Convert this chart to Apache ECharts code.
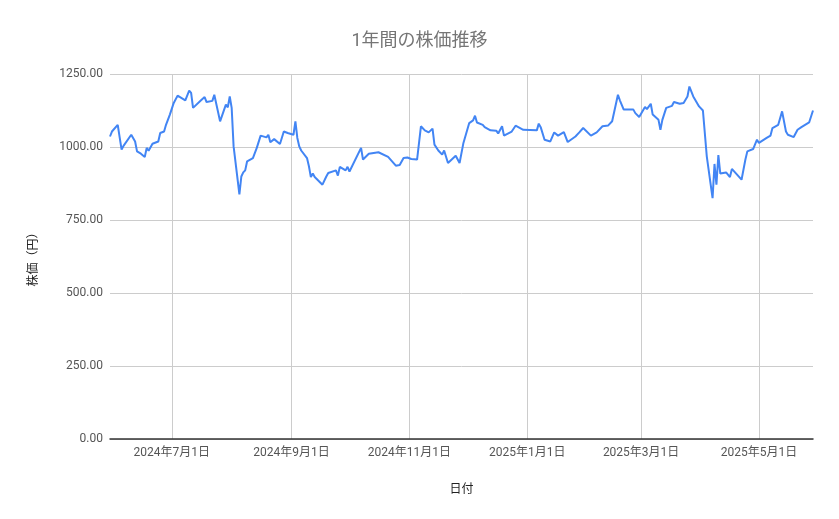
<!DOCTYPE html>
<html>
<head>
<meta charset="utf-8">
<script src="https://cdn.jsdelivr.net/npm/echarts@6/dist/echarts.min.js"></script>
<style>
html,body{margin:0;padding:0;background:#fff;}
#chart{width:839px;height:519px;}
</style>
</head>
<body>
<div id="chart"></div>
<script>
const dates = [
 '2024-05-30','2024-05-31','2024-06-03','2024-06-05','2024-06-06','2024-06-07','2024-06-10','2024-06-12','2024-06-13','2024-06-15',
 '2024-06-17','2024-06-18','2024-06-19','2024-06-21','2024-06-24','2024-06-25','2024-06-27','2024-06-28','2024-06-30','2024-07-02',
 '2024-07-03','2024-07-04','2024-07-08','2024-07-10','2024-07-11','2024-07-12','2024-07-16','2024-07-17','2024-07-18','2024-07-19',
 '2024-07-22','2024-07-23','2024-07-26','2024-07-29','2024-07-30','2024-07-31','2024-08-01','2024-08-02','2024-08-05','2024-08-06',
 '2024-08-07','2024-08-08','2024-08-09','2024-08-12','2024-08-14','2024-08-16','2024-08-19','2024-08-20','2024-08-21','2024-08-23',
 '2024-08-26','2024-08-28','2024-08-30','2024-08-31','2024-09-02','2024-09-03','2024-09-04','2024-09-05','2024-09-06','2024-09-09',
 '2024-09-10','2024-09-11','2024-09-12','2024-09-13','2024-09-17','2024-09-19','2024-09-20','2024-09-24','2024-09-25','2024-09-26',
 '2024-09-29','2024-09-30','2024-10-01','2024-10-07','2024-10-08','2024-10-09','2024-10-11','2024-10-16','2024-10-21','2024-10-25',
 '2024-10-27','2024-10-29','2024-10-31','2024-11-02','2024-11-05','2024-11-07','2024-11-09','2024-11-11','2024-11-13','2024-11-14',
 '2024-11-16','2024-11-18','2024-11-19','2024-11-21','2024-11-25','2024-11-27','2024-11-29','2024-12-02','2024-12-04','2024-12-05',
 '2024-12-06','2024-12-09','2024-12-10','2024-12-11','2024-12-13','2024-12-16','2024-12-17','2024-12-19','2024-12-20','2024-12-24',
 '2024-12-26','2024-12-30','2025-01-06','2025-01-07','2025-01-08','2025-01-10','2025-01-13','2025-01-15','2025-01-17','2025-01-20',
 '2025-01-22','2025-01-26','2025-01-28','2025-01-30','2025-02-03','2025-02-06','2025-02-09','2025-02-12','2025-02-14','2025-02-17',
 '2025-02-18','2025-02-20','2025-02-25','2025-02-26','2025-02-27','2025-02-28','2025-03-03','2025-03-04','2025-03-06','2025-03-07',
 '2025-03-10','2025-03-11','2025-03-12','2025-03-14','2025-03-17','2025-03-18','2025-03-21','2025-03-23','2025-03-25','2025-03-26',
 '2025-03-28','2025-03-31','2025-04-02','2025-04-04','2025-04-07','2025-04-08','2025-04-09','2025-04-10','2025-04-11','2025-04-14',
 '2025-04-16','2025-04-17','2025-04-22','2025-04-24','2025-04-25','2025-04-28','2025-04-30','2025-05-01','2025-05-05','2025-05-07',
 '2025-05-08','2025-05-11','2025-05-13','2025-05-15','2025-05-16','2025-05-19','2025-05-21','2025-05-23','2025-05-27','2025-05-29'
];
const prices = [
 1036,1053,1076,991,1004,1002,1042,1019,985,977,
 966,997,987,1011,1019,1048,1053,1076,1111,1151,
 1153,1176,1160,1193,1185,1134,1159,1153,1171,1154,
 1158,1179,1088,1145,1136,1173,1134,1002,838,899,
 913,920,951,962,997,1039,1033,1042,1016,1027,
 1010,1053,1048,1042,1042,1088,1031,1002,988,962,
 934,897,909,897,871,899,911,920,902,932,
 920,932,916,997,957,953,977,982,966,936,
 938,962,964,959,957,1071,1057,1050,1063,1008,
 988,974,988,945,970,945,1014,1082,1091,1107,
 1084,1076,1068,1071,1057,1056,1046,1071,1039,1053,
 1073,1059,1057,1080,1068,1025,1019,1050,1039,1051,
 1017,1036,1050,1065,1039,1050,1071,1074,1088,1179,
 1160,1128,1128,1116,1118,1103,1137,1130,1148,1111,
 1093,1059,1093,1134,1141,1154,1148,1151,1173,1207,
 1173,1139,1125,968,825,942,871,972,909,913,
 897,925,888,957,985,993,1025,1014,1031,1039,
 1065,1076,1122,1053,1042,1034,1059,1068,1084,1125
];
const xTickDates = ['2024-07-01','2024-09-01','2024-11-01','2025-01-01','2025-03-01','2025-05-01'];
const xMinDate = '2024-05-30';
const xMaxDate = '2025-05-29';
const yTicks = [0, 250, 500, 750, 1000, 1250];

function ts(s) {
  const p = s.split('-').map(Number);
  return new Date(p[0], p[1] - 1, p[2]).getTime();
}
const seriesData = dates.map((d, i) => [ts(d), prices[i]]);
const tickTs = xTickDates.map(ts);

const FONT = "Roboto, 'Noto Sans CJK JP', sans-serif";
const chart = echarts.init(document.getElementById('chart'), null, {renderer: 'canvas'});
chart.setOption({
  backgroundColor: '#ffffff',
  animation: false,
  title: {
    text: '1年間の株価推移',
    left: 'center',
    top: 28,
    textStyle: {fontFamily: FONT, fontSize: 18, fontWeight: 'normal', color: '#757575'}
  },
  grid: {left: 110, right: 26, top: 74, bottom: 80, containLabel: false},
  xAxis: {
    type: 'value',
    min: ts(xMinDate),
    max: ts(xMaxDate),
    name: '日付',
    nameLocation: 'middle',
    nameGap: 45,
    nameTextStyle: {fontFamily: FONT, fontSize: 12, color: '#222'},
    axisLine: {show: true, onZero: false, lineStyle: {color: '#333', width: 1.5}},
    axisTick: {show: false, customValues: tickTs},
    axisLabel: {
      customValues: tickTs,
      fontFamily: FONT, fontSize: 12, color: '#555', margin: 8,
      formatter: function (v) {
        const d = new Date(v);
        return d.getFullYear() + '年' + (d.getMonth() + 1) + '月' + d.getDate() + '日';
      }
    },
    splitLine: {show: true, lineStyle: {color: '#cccccc', width: 1}}
  },
  yAxis: {
    type: 'value',
    min: yTicks[0],
    max: yTicks[yTicks.length - 1],
    interval: 250,
    name: '株価（円）',
    nameLocation: 'middle',
    nameGap: 70,
    nameRotate: 90,
    nameTextStyle: {fontFamily: FONT, fontSize: 12, color: '#222'},
    axisLine: {show: false},
    axisTick: {show: false},
    axisLabel: {
      fontFamily: FONT, fontSize: 12, color: '#555', margin: 7,
      formatter: v => v.toFixed(2)
    },
    splitLine: {show: true, lineStyle: {color: '#cccccc', width: 1}}
  },
  series: [{
    type: 'line',
    data: seriesData,
    showSymbol: false,
    symbol: 'none',
    lineStyle: {color: '#4285F4', width: 2},
    itemStyle: {color: '#4285F4'}
  }]
});
</script>
</body>
</html>
